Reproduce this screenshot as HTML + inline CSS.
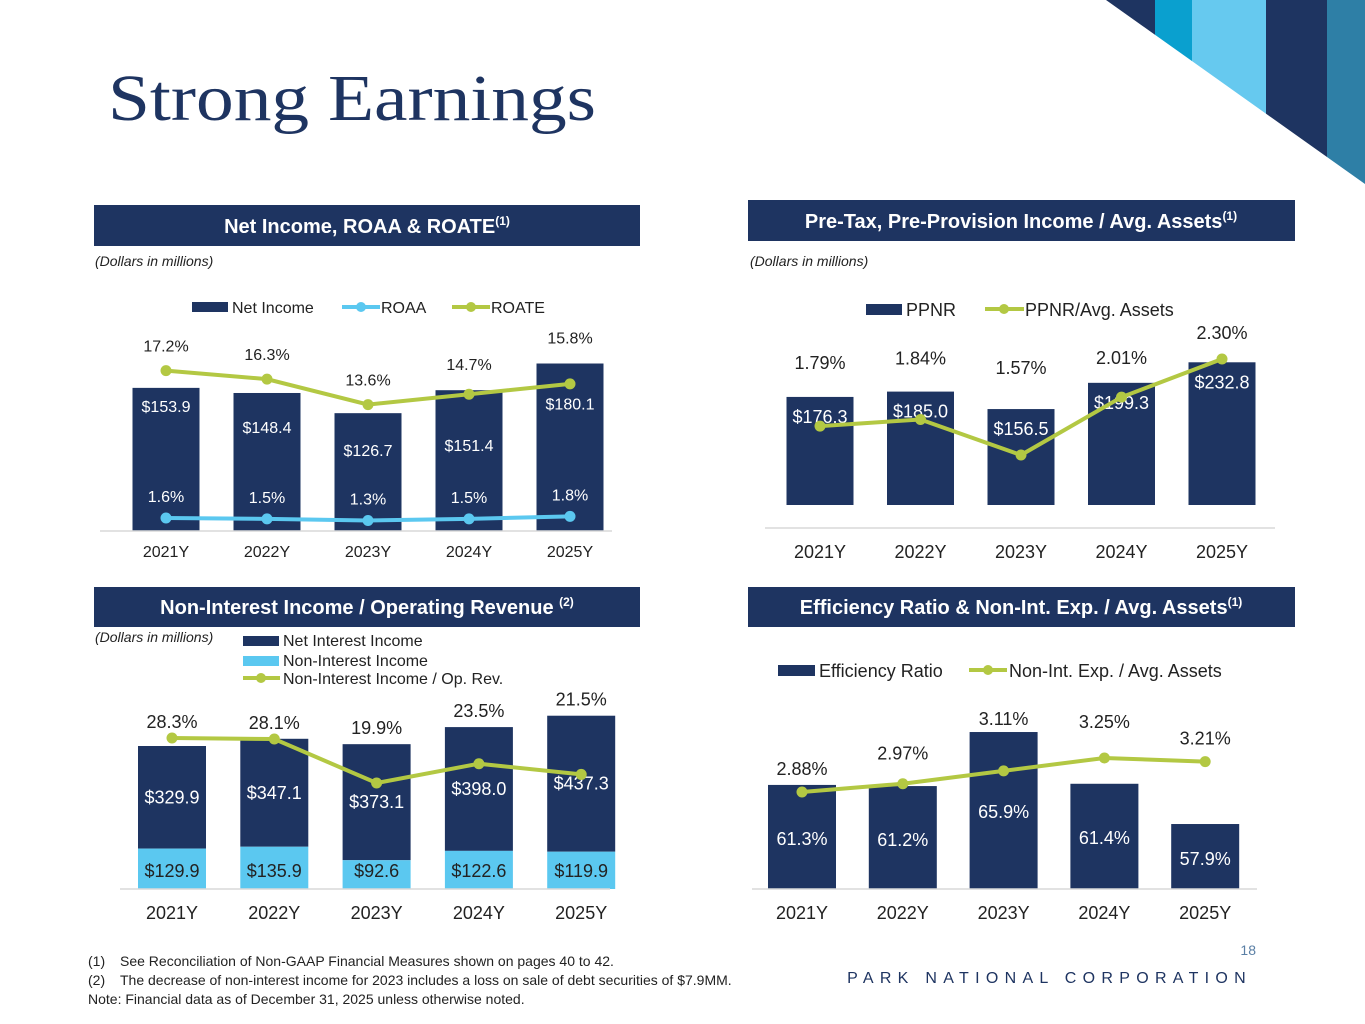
<!DOCTYPE html>
<html><head><meta charset="utf-8"><style>
body{margin:0;background:#fff;}
svg{display:block;font-family:"Liberation Sans",Arial,sans-serif;}
</style></head><body>
<svg id="s" width="1365" height="1024" viewBox="0 0 1365 1024">
<g>
<rect x="1100" y="0" width="55" height="200" fill="#1e3461"/>
<rect x="1155" y="0" width="37" height="200" fill="#0aa0cf"/>
<rect x="1192" y="0" width="74" height="200" fill="#66c9ef"/>
<rect x="1266" y="0" width="61" height="200" fill="#1e3461"/>
<rect x="1327" y="0" width="38" height="200" fill="#2e7fa6"/>
<polygon points="1100,0 1106,0 1365,184 1365,200 1100,200" fill="#fff"/>
</g>
<text x="108" y="120" font-family="Liberation Serif, serif" font-size="66" fill="#1e3461" textLength="488" lengthAdjust="spacingAndGlyphs">Strong Earnings</text>

<g><rect x="94" y="205" width="546" height="41" fill="#1e3461"/>
<text x="367" y="233" text-anchor="middle" font-size="20" font-weight="bold" fill="#fff">Net Income, ROAA &amp; ROATE<tspan font-size="12" dy="-8">(1)</tspan></text></g>
<g><rect x="748" y="200" width="547" height="41" fill="#1e3461"/>
<text x="1021" y="228" text-anchor="middle" font-size="20" font-weight="bold" fill="#fff">Pre-Tax, Pre-Provision Income / Avg. Assets<tspan font-size="12" dy="-8">(1)</tspan></text></g>
<g><rect x="94" y="587" width="546" height="40" fill="#1e3461"/>
<text x="367" y="614" text-anchor="middle" font-size="20" font-weight="bold" fill="#fff">Non-Interest Income / Operating Revenue <tspan font-size="12" dy="-8">(2)</tspan></text></g>
<g><rect x="748" y="587" width="547" height="40" fill="#1e3461"/>
<text x="1021" y="614" text-anchor="middle" font-size="20" font-weight="bold" fill="#fff">Efficiency Ratio &amp; Non-Int. Exp. / Avg. Assets<tspan font-size="12" dy="-8">(1)</tspan></text></g>

<text x="95" y="266" font-size="14" font-style="italic" fill="#222">(Dollars in millions)</text>
<text x="750" y="266" font-size="14" font-style="italic" fill="#222">(Dollars in millions)</text>
<text x="95" y="642" font-size="14" font-style="italic" fill="#222">(Dollars in millions)</text>

<g font-size="16" fill="#222">
<rect x="192" y="302" width="36" height="10" fill="#1e3461"/><text x="232" y="313">Net Income</text>
<line x1="342" y1="307" x2="380" y2="307" stroke="#5bc8f0" stroke-width="4"/><circle cx="361" cy="307" r="5" fill="#5bc8f0"/><text x="381" y="313">ROAA</text>
<line x1="452" y1="307" x2="490" y2="307" stroke="#b3c843" stroke-width="4"/><circle cx="471" cy="307" r="5" fill="#b3c843"/><text x="491" y="313">ROATE</text>
</g>
<g font-size="18" fill="#222">
<rect x="866" y="304" width="36" height="11" fill="#1e3461"/><text x="906" y="316">PPNR</text>
<line x1="985" y1="309" x2="1024" y2="309" stroke="#b3c843" stroke-width="4"/><circle cx="1004" cy="309" r="5" fill="#b3c843"/><text x="1025" y="316">PPNR/Avg. Assets</text>
</g>
<g font-size="16" fill="#222">
<rect x="243" y="636" width="36" height="10" fill="#1e3461"/><text x="283" y="646">Net Interest Income</text>
<rect x="243" y="656" width="36" height="10" fill="#5bc8f0"/><text x="283" y="666">Non-Interest Income</text>
<line x1="243" y1="678" x2="280" y2="678" stroke="#b3c843" stroke-width="4"/><circle cx="261" cy="678" r="5" fill="#b3c843"/><text x="283" y="684">Non-Interest Income / Op. Rev.</text>
</g>
<g font-size="18" fill="#222">
<rect x="778" y="665" width="37" height="11" fill="#1e3461"/><text x="819" y="677">Efficiency Ratio</text>
<line x1="969" y1="670" x2="1007" y2="670" stroke="#b3c843" stroke-width="4"/><circle cx="988" cy="670" r="5" fill="#b3c843"/><text x="1009" y="677">Non-Int. Exp. / Avg. Assets</text>
</g>
<g id="charts"></g>

<g font-size="14" fill="#222">
<text x="88" y="966">(1)</text><text x="120" y="966">See Reconciliation of Non-GAAP Financial Measures shown on pages 40 to 42.</text>
<text x="88" y="985">(2)</text><text x="120" y="985">The decrease of non-interest income for 2023 includes a loss on sale of debt securities of $7.9MM.</text>
<text x="88" y="1004">Note: Financial data as of December 31, 2025 unless otherwise noted.</text>
</g>
<text x="1256" y="955" text-anchor="end" font-size="14" fill="#5a7fa5">18</text>
<text x="1252" y="983" text-anchor="end" font-size="16" letter-spacing="6.3" fill="#1e3461">PARK NATIONAL CORPORATION</text>
</svg>
<script>
const years=["2021Y","2022Y","2023Y","2024Y","2025Y"];
const netIncome=[153.9,148.4,126.7,151.4,180.1];
const roaa=[1.6,1.5,1.3,1.5,1.8];
const roate=[17.2,16.3,13.6,14.7,15.8];
const ppnr=[176.3,185.0,156.5,199.3,232.8];
const ppnrAssets=[1.79,1.84,1.57,2.01,2.30];
const nii=[329.9,347.1,373.1,398.0,437.3];
const nonii=[129.9,135.9,92.6,122.6,119.9];
const noniiRatio=[28.3,28.1,19.9,23.5,21.5];
const effRatio=[61.3,61.2,65.9,61.4,57.9];
const nonIntExp=[2.88,2.97,3.11,3.25,3.21];

const NS="http://www.w3.org/2000/svg",G=document.getElementById('charts');
const NAVY="#1e3461",LB="#5bc8f0",GR="#b3c843";
function mk(t,a,p){const e=document.createElementNS(NS,t);for(const k in a)e.setAttribute(k,a[k]);(p||G).appendChild(e);return e;}
function txt(x,y,s,sz,fill,p){const e=mk('text',{x:x,y:y,'text-anchor':'middle','font-size':sz,fill:fill},p);e.textContent=s;return e;}
function grp(n){const g=mk('g',{});return g;}
function xAxis(g,x0,y,x1,ly,cx,sz){mk('line',{x1:x0,y1:y,x2:x1,y2:y,stroke:'#d9d9d9','stroke-width':1.5},g);
 years.forEach((yr,i)=>{const t=txt(cx(i),ly,yr,sz,'#222',g);});}
function line(g,vals,cx,yf,col,name){const pts=vals.map((v,i)=>cx(i)+','+yf(v)).join(' ');
 const l=mk('polyline',{points:pts,fill:'none',stroke:col,'stroke-width':4},g);
 vals.forEach((v,i)=>{const c=mk('circle',{cx:cx(i),cy:yf(v),r:5.5,fill:col},g);});}
function bar(g,x,y0,y1,w,col,name){const r=mk('rect',{x:x-w/2,y:y1,width:w,height:y0-y1,fill:col},g);}

// Chart 1
(function(){const g=grp('chart-net-income');const cx=i=>166+101*i,B=531;
 const yb=v=>B-v*0.93,yr=v=>533-v*9.44,ya=v=>531-v*8.1;
 const lo=[24,40,43,61,46];
 netIncome.forEach((v,i)=>{bar(g,cx(i),B,yb(v),67,NAVY,'bar-net-income');txt(cx(i),yb(v)+lo[i],'$'+v.toFixed(1),16,'#fff',g);});
 xAxis(g,100,B,612,557,cx,16);
 line(g,roate,cx,yr,GR,'roate');line(g,roaa,cx,ya,LB,'roaa');
 roate.forEach((v,i)=>txt(cx(i),Math.min(yr(v)-19,yb(netIncome[i])-20),v.toFixed(1)+'%',16,'#222',g));
 roaa.forEach((v,i)=>txt(cx(i),ya(v)-16,v.toFixed(1)+'%',16,'#fff',g));})();
// Chart 2
(function(){const g=grp('chart-ppnr');const cx=i=>820+100.5*i,B=505;
 const yb=v=>B-v*0.613,yl=v=>455-(v-1.57)*131.5;
 ppnr.forEach((v,i)=>{bar(g,cx(i),B,yb(v),67,NAVY,'bar-ppnr');txt(cx(i),yb(v)+26,'$'+v.toFixed(1),18,'#fff',g);});
 xAxis(g,765,528,1275,558,cx,18);
 line(g,ppnrAssets,cx,yl,GR,'ppnr-avg-assets');
 const off=[-57,-55,-73,-33,-20];
 ppnrAssets.forEach((v,i)=>txt(cx(i),yl(v)+off[i]+(i==2?-8:0),v.toFixed(2)+'%',18,'#222',g));})();
// Chart 3
(function(){const g=grp('chart-non-interest');const cx=i=>172+102.3*i,B=889;
 const ys=v=>v*0.311,yl=v=>783-(v-19.9)*5.36;
 nii.forEach((v,i)=>{const n=nonii[i];const top=B-ys(v+n),mid=B-ys(n);
  bar(g,cx(i),mid,top,68,NAVY,'bar-net-interest-income');bar(g,cx(i),B,mid,68,LB,'bar-non-interest-income');
  txt(cx(i),(top+mid)/2+6,'$'+v.toFixed(1),18,'#fff',g);txt(cx(i),B-12,'$'+n.toFixed(1),18,'#222',g);});
 xAxis(g,120,B,610,919,cx,18);
 line(g,noniiRatio,cx,yl,GR,'non-interest-ratio');
 const tops=nii.map((v,i)=>B-ys(v+nonii[i]));
 noniiRatio.forEach((v,i)=>txt(cx(i),Math.min(yl(v),tops[i])-10,v.toFixed(1)+'%',18,'#222',g));})();
// Chart 4
(function(){const g=grp('chart-efficiency');const cx=i=>802+100.8*i,B=889;
 const yb=v=>B-(v-52.25)*11.5,yl=v=>792-(v-2.88)*92;
 effRatio.forEach((v,i)=>{bar(g,cx(i),B,yb(v),68,NAVY,'bar-efficiency-ratio');txt(cx(i),(i==4?yb(v)+41:(i==2?yb(v)+86:yb(v)+60)),v.toFixed(1)+'%',18,'#fff',g);});
 xAxis(g,752,B,1257,919,cx,18);
 line(g,nonIntExp,cx,yl,GR,'non-int-exp');
 const off=[-17,-24,-46,-30,-17];
 nonIntExp.forEach((v,i)=>txt(cx(i),yl(v)+off[i],v.toFixed(2)+'%',18,'#222',g));})();
</script>
</body></html>
